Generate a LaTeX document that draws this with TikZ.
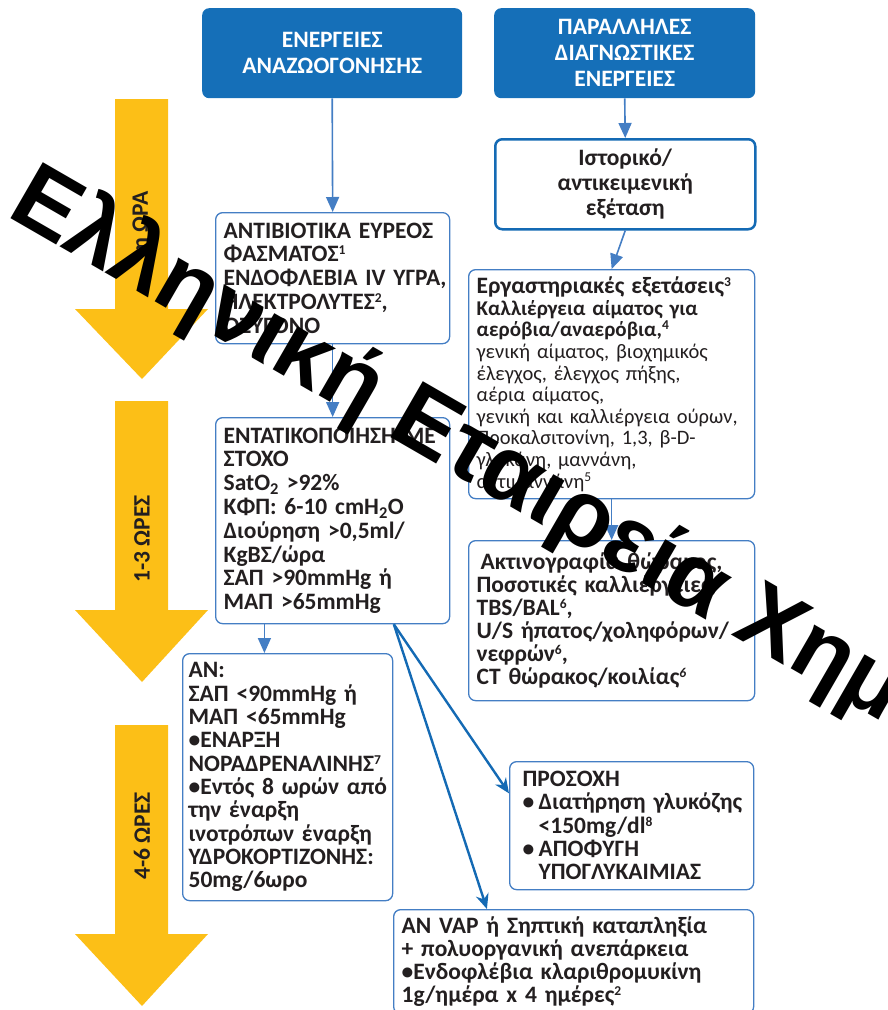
\documentclass[tikz,border=0pt]{standalone}
\usepackage{fontspec}
\setmainfont{Carlito}
\newfontfamily\wmfont{Liberation Sans}
\usetikzlibrary{calc,arrows.meta,positioning}

\definecolor{hdrblue}{RGB}{21,111,184}
\definecolor{lineblue}{RGB}{68,126,196}
\definecolor{darkblue}{RGB}{20,106,180}
\definecolor{gold}{RGB}{252,191,23}
\definecolor{ink}{RGB}{35,31,32}

% lines on a fixed baseline pitch, never wrapped
\newcommand{\boxlines}[1]{\vbox{\lineskiplimit=-\maxdimen\let\\\cr\halign{##\hfil\cr#1\crcr}}}
\newcommand{\refno}[1]{\raise7pt\hbox{\fontsize{13.5}{13.5}\selectfont #1}}

\tikzset{
  hdr/.style={fill=hdrblue, rounded corners=7pt, text=white, align=center, inner sep=0pt,
    anchor=north west, font=\fontsize{23.5}{26}\selectfont\bfseries},
  card/.style={draw=lineblue, line width=1.3pt, rounded corners=7pt, fill=white, anchor=north west,
    inner xsep=8pt, inner ysep=0pt, text=ink, font=\fontsize{23.5}{23.8}\selectfont\bfseries},
  hours/.style={rotate=90, text=ink, inner sep=0pt, font=\fontsize{23.5}{24}\selectfont\bfseries},
  thinarr/.style={draw=lineblue, line width=1.6pt, -{Triangle[length=15pt,width=13pt]}},
  diagarr/.style={draw=darkblue, line width=2.4pt, -{Stealth[length=15pt,width=13pt]}},
  wmark/.style={inner sep=0pt, text=black, font=\wmfont\bfseries\fontsize{94}{94}\selectfont}
}

\begin{document}
\begin{tikzpicture}[x=1pt, y=-1pt]
\useasboundingbox (0,0) rectangle (887,1010);
\clip (0,0) rectangle (887,1010);

% time arrows
\foreach \ya/\yb/\yc/\lbl/\ly [count=\i] in {99/309/379/{1η ΩΡΑ}/227, 401/610/682/{1-3 ΩΡΕΣ}/539, 725/934/1006/{4-6 ΩΡΕΣ}/836}
{
  \fill[gold] (115,\ya) -- (168,\ya) -- (168,\yb) -- (208,\yb) -- (142,\yc) -- (75,\yb) -- (115,\yb) -- cycle;
  \node[hours] (time\i) at (142,\ly) {\lbl};
}

\node[hdr, minimum width=260pt, minimum height=90pt] (resus) at (202,8) {ΕΝΕΡΓΕΙΕΣ\\ΑΝΑΖΩΟΓΟΝΗΣΗΣ};
\node[hdr, minimum width=261pt, minimum height=90pt] (diag) at (494,8) {ΠΑΡΑΛΛΗΛΕΣ\\ΔΙΑΓΝΩΣΤΙΚΕΣ\\ΕΝΕΡΓΕΙΕΣ};

\node[card, text width=218pt, minimum height=131pt] (antib) at (215,212)
  {\boxlines{ΑΝΤΙΒΙΟΤΙΚΑ ΕΥΡΕΟΣ\\ΦΑΣΜΑΤΟΣ\refno{1}\\ΕΝΔΟΦΛΕΒΙΑ IV ΥΓΡΑ,\\ΗΛΕΚΤΡΟΛΥΤΕΣ\refno{2},\\ΟΞΥΓΟΝΟ}};
\node[card, text width=218pt, minimum height=206pt] (ent) at (215,417)
  {\boxlines{ΕΝΤΑΤΙΚΟΠΟΙΗΣΗ ΜΕ\\ΣΤΟΧΟ\\SatO\textsubscript{2} >92\%\\ΚΦΠ: 6-10 cmH\textsubscript{2}O\\Διούρηση >0,5ml/\\KgΒΣ/ώρα\\ΣΑΠ >90mmHg ή\\ΜΑΠ >65mmHg}};
\node[card, inner xsep=6pt, text width=198pt, minimum height=247pt, font=\fontsize{23.5}{23.3}\selectfont\bfseries] (an) at (182,653)
  {\boxlines{ΑΝ:\\ΣΑΠ <90mmHg ή\\ΜΑΠ <65mmHg\\•ΕΝΑΡΞΗ\\ΝΟΡΑΔΡΕΝΑΛΙΝΗΣ\refno{7}\\•Εντός 8 ωρών από\\την έναρξη\\ινοτρόπων έναρξη\\ΥΔΡΟΚΟΡΤΙΖΟΝΗΣ:\\50mg/6ωρο}};

\node[draw=darkblue, line width=2.5pt, rounded corners=7pt, fill=white, anchor=north west, align=center,
  inner sep=0pt, minimum width=260pt, minimum height=90pt, text=ink,
  font=\fontsize{23.5}{25}\selectfont\bfseries] (hist) at (494,138) {Ιστορικό/\\αντικειμενική\\εξέταση};
\node[card, text width=270pt, minimum height=229pt, font=\fontsize{20.5}{21.6}\selectfont] (lab) at (468,269)
  {\boxlines{\fontsize{23.5}{21.6}\selectfont\bfseries Εργαστηριακές εξετάσεις\refno{3}\\
   \fontsize{21}{21.6}\selectfont\bfseries Καλλιέργεια αίματος για\\
   \fontsize{21}{21.6}\selectfont\bfseries αερόβια/αναερόβια,\refno{4}\\
   γενική αίματος, βιοχημικός\\έλεγχος, έλεγχος πήξης,\\αέρια αίματος,\\γενική και καλλιέργεια ούρων,\\Προκαλσιτονίνη, 1,3, β-D-\\γλυκάνη, μαννάνη,\\αντιμαννάνη\refno{5}}};
\node[card, text width=270pt, minimum height=160pt, font=\fontsize{23.5}{23}\selectfont\bfseries] (xray) at (468,540)
  {\boxlines{\hspace*{4pt}Ακτινογραφία θώρακος,\\Ποσοτικές καλλιέργειες,\\TBS/BAL\refno{6},\\U/S ήπατος/χοληφόρων/\\νεφρών\refno{6},\\CT θώρακος/κοιλίας\refno{\itshape 6}}};
\node[card, inner xsep=13pt, text width=218pt, minimum height=128pt, font=\fontsize{23.5}{23.3}\selectfont\bfseries] (prosoxi) at (509,761)
  {\boxlines{ΠΡΟΣΟΧΗ\\\makebox[16pt][l]{•}Διατήρηση γλυκόζης\\\hspace*{16pt}<150mg/dl\refno{8}\\\makebox[16pt][l]{•}ΑΠΟΦΥΓΗ\\\hspace*{16pt}ΥΠΟΓΛΥΚΑΙΜΙΑΣ}};
\node[card, text width=344pt, minimum height=104pt, font=\fontsize{23.5}{23}\selectfont\bfseries] (vap) at (393,909)
  {\boxlines{ΑΝ VAP ή Σηπτική καταπληξία\\+ πολυοργανική ανεπάρκεια\\•Ενδοφλέβια κλαριθρομυκίνη\\1g/ημέρα x 4 ημέρες\refno{2}}};

\draw[thinarr] (resus.south) -- (antib.north);
\draw[thinarr] (antib.south) -- (ent.north);
\coordinate (entL) at ($(ent.south west)!0.21!(ent.south east)$);
\draw[thinarr] (entL) -- (entL |- an.north);
\draw[thinarr] (diag.south) -- (hist.north);
\draw[thinarr] (hist.south) -- (lab.north);
\draw[thinarr] (lab.south) -- (xray.north);
\coordinate (entR) at ($(ent.south west)!0.76!(ent.south east)$);
\draw[diagarr] (entR) -- ($(prosoxi.north west)!0.25!(prosoxi.south west)$);
\draw[diagarr] (entR) -- ($(vap.north west)!0.26!(vap.north east)$);

\node[wmark, rotate=-30, anchor=base west] (wm) at (5,215) {Ελληνική Εταιρεία Χημ};
\end{tikzpicture}
\end{document}
